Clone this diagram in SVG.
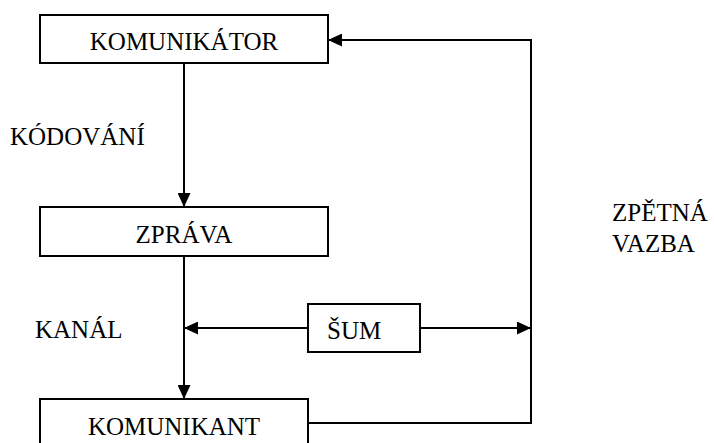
<svg xmlns="http://www.w3.org/2000/svg" width="714" height="443" viewBox="0 0 714 443">
<style>
.box{fill:#fff;stroke:#000;stroke-width:2}
.ln{fill:none;stroke:#000;stroke-width:2}
.t{font-size:25px;fill:#000}
.c{text-anchor:middle}
</style>
<defs>
<marker id="ah" markerWidth="14" markerHeight="13" refX="14" refY="6.5" orient="auto" markerUnits="userSpaceOnUse" viewBox="0 0 14 13">
<path d="M0,0 L14,6.5 L0,13 Z" fill="#000"/>
</marker>
</defs>
<rect width="714" height="443" fill="#fff"/>
<g id="connectors">
<line class="ln" x1="184" y1="63" x2="184" y2="207" marker-end="url(#ah)"/>
<line class="ln" x1="184" y1="256" x2="184" y2="399" marker-end="url(#ah)"/>
<line class="ln" x1="308" y1="328" x2="184" y2="328" marker-end="url(#ah)"/>
<line class="ln" x1="420" y1="328" x2="531" y2="328" marker-end="url(#ah)"/>
<polyline class="ln" points="308,423 531,423 531,40 328,40" marker-end="url(#ah)"/>
</g>
<g font-family="Liberation Serif, DejaVu Serif, serif">
<g id="komunikator">
<rect class="box" x="40" y="15" width="288" height="48"/>
<text class="t c" x="184" y="50">KOMUNIKÁTOR</text>
</g>
<g id="zprava">
<rect class="box" x="40" y="207" width="288" height="49"/>
<text class="t c" x="184" y="243">ZPRÁVA</text>
</g>
<g id="sum">
<rect class="box" x="308" y="304" width="112" height="48"/>
<text class="t" x="327" y="339">ŠUM</text>
</g>
<g id="komunikant">
<rect class="box" x="40" y="399" width="268" height="60"/>
<text class="t c" x="174" y="435">KOMUNIKANT</text>
</g>
<g id="labels">
<text class="t" x="10" y="145">KÓDOVÁNÍ</text>
<text class="t" x="35" y="338">KANÁL</text>
<text class="t" x="612" y="221">ZPĚTNÁ</text>
<text class="t" x="612" y="252">VAZBA</text>
</g>
</g>
</svg>
